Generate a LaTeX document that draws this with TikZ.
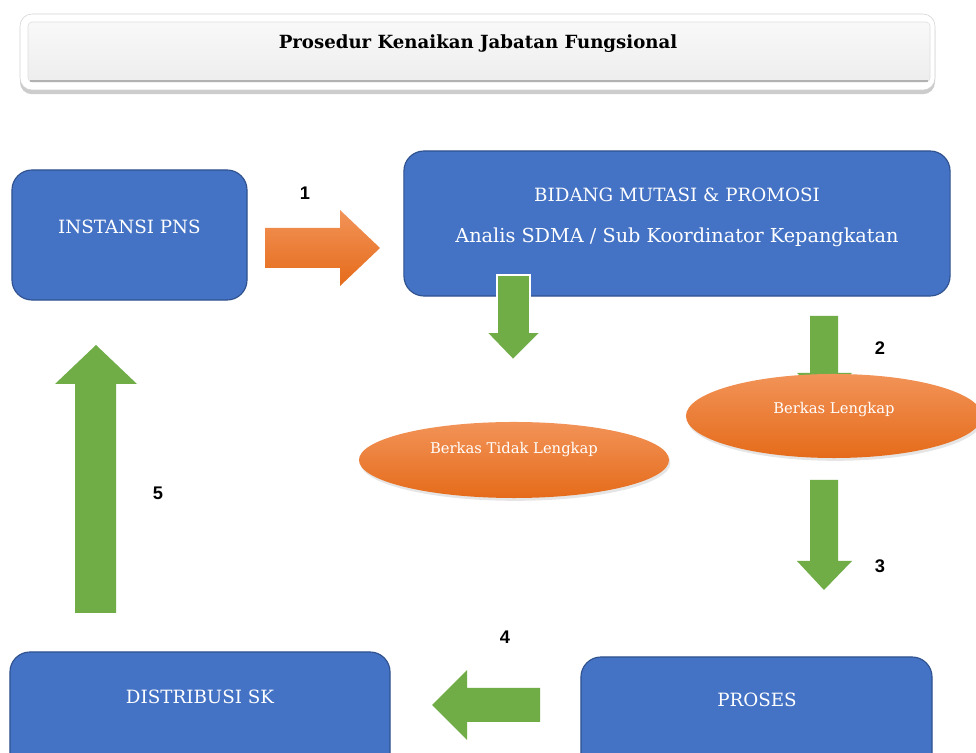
\documentclass[tikz,border=0pt]{standalone}
\usepackage{fontspec}
\setmainfont{DejaVu Serif}
\newfontfamily\numfont{Liberation Sans}
\usetikzlibrary{shadows}
\definecolor{boxblue}{HTML}{4472C4}
\definecolor{boxedge}{HTML}{2F528F}
\definecolor{arrgreen}{HTML}{70AD47}
\definecolor{orgtop}{HTML}{F29358}
\definecolor{orgbot}{HTML}{E56B1A}
\tikzset{
  bluebox/.style={draw=boxedge, line width=0.8pt, fill=boxblue, rounded corners=0.5cm, inner sep=0pt},
  btext/.style={text=white, font=\fontsize{13}{15}\selectfont, inner sep=0pt},
  etext/.style={text=white, font=\fontsize{10.5}{12}\selectfont, inner sep=0pt},
  numlbl/.style={font=\numfont\bfseries\fontsize{13}{15}\selectfont, inner sep=0pt},
  garrow/.style={fill=arrgreen},
  oshade/.style={top color=orgtop, bottom color=orgbot},
}
\begin{document}
\begin{tikzpicture}[x=0.025cm,y=-0.025cm]
\useasboundingbox (0,0) rectangle (976,753);
\clip (0,0) rectangle (976,753);
\fill[white] (0,0) rectangle (976,753);

% title
\path[fill=white, draw=gray!35, rounded corners=0.3cm, drop shadow={shadow xshift=0pt, shadow yshift=-3pt, opacity=0.4}] (20,14) rectangle (935,90);
\path[top color=gray!5, bottom color=gray!14, draw=gray!25, rounded corners=0.1cm] (28,22) rectangle (930,82);
\draw[gray!60, line width=1.4pt] (30,81) -- (928,81);
\node[font=\bfseries\fontsize{12.9}{15}\selectfont, inner sep=0pt] (title) at (478,44) {Prosedur Kenaikan Jabatan Fungsional};

% boxes
\node[bluebox, minimum width=5.875cm, minimum height=3.25cm] (inst) at (129.5,235) {};
\node[btext] (instt) at (129.5,227) {INSTANSI PNS};

\node[bluebox, minimum width=13.65cm, minimum height=3.625cm] (bid) at (677,223.5) {};
\node[btext] (bid1) at (677,195) {BIDANG MUTASI \& PROMOSI};
\node[btext, font=\fontsize{13.7}{16}\selectfont] (bid2) at (677,237) {Analis SDMA / Sub Koordinator Kepangkatan};

\node[bluebox, minimum width=8.775cm, minimum height=3.325cm] (pros) at (756.5,723.5) {};
\node[btext] (prost) at (757,700) {PROSES};

\node[bluebox, minimum width=9.5cm, minimum height=3.45cm] (dist) at (200,721) {};
\node[btext] (distt) at (200,697) {DISTRIBUSI SK};

% arrow 1
\path[oshade] (265,228) -- (340,228) -- (340,210) -- (380,248) -- (340,286) -- (340,268) -- (265,268) -- cycle;
\node[numlbl] (n1) at (305,193) {1};

% green arrow under bidang
\path[garrow, draw=white, line width=1.2pt] (497,275) -- (530,275) -- (530,332) -- (541,332) -- (513,360) -- (486,332) -- (497,332) -- cycle;

% arrow 2
\path[garrow] (810,316) -- (838,316) -- (838,373) -- (852,373) -- (824,400) -- (797,373) -- (810,373) -- cycle;
\node[numlbl] (n2) at (880,348) {2};

% ellipses
\path[oshade, drop shadow={shadow xshift=1pt, shadow yshift=-2pt, opacity=0.2}] (834,416) ellipse [x radius=3.7cm, y radius=1.05cm];
\node[etext] (bl) at (834,410) {Berkas Lengkap};
\path[oshade, drop shadow={shadow xshift=1pt, shadow yshift=-2pt, opacity=0.2}] (514,460) ellipse [x radius=3.875cm, y radius=0.95cm];
\node[etext] (btl) at (514,450) {Berkas Tidak Lengkap};

% arrow 3
\path[garrow] (810,480) -- (838,480) -- (838,561) -- (852,561) -- (824,590) -- (797,561) -- (810,561) -- cycle;
\node[numlbl] (n3) at (880,566) {3};

% arrow 4
\path[garrow] (540,688) -- (467,688) -- (467,670) -- (432,705) -- (467,740) -- (467,722) -- (540,722) -- cycle;
\node[numlbl] (n4) at (505,637) {4};

% arrow 5
\path[garrow] (75,613) -- (75,384) -- (55,384) -- (96,345) -- (137,384) -- (116,384) -- (116,613) -- cycle;
\node[numlbl] (n5) at (158,493) {5};
\end{tikzpicture}
\end{document}
